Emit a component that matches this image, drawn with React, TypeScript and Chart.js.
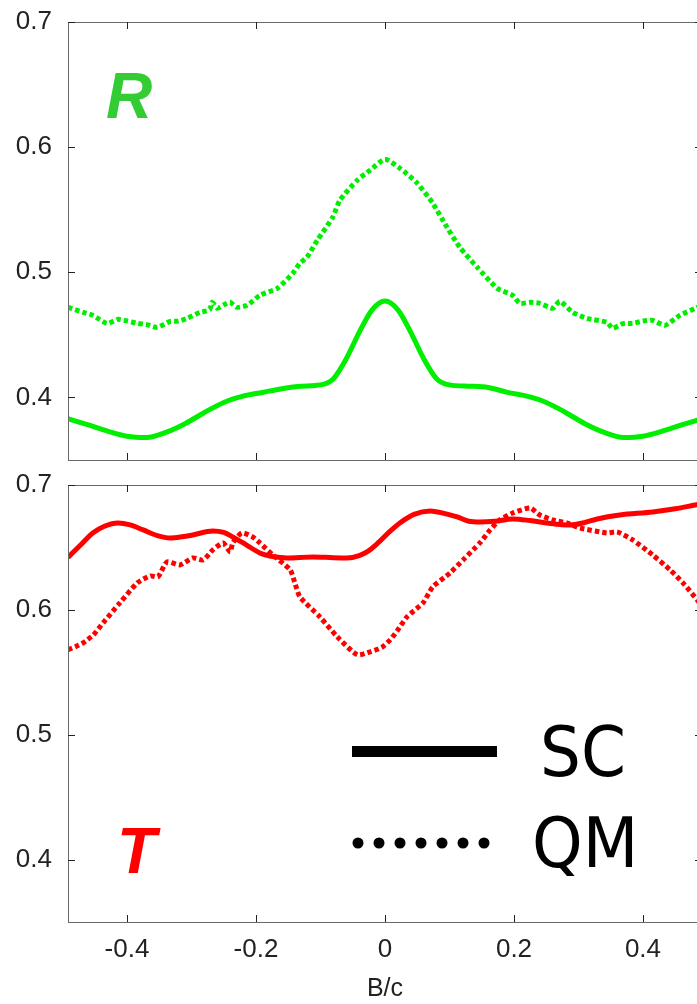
import React, { useEffect, useRef } from 'react';
import { Chart, registerables } from 'chart.js';

Chart.register(...registerables);

// ---------- data ----------
const X_MIN = -0.4915;
const X_MAX = 0.4915;
const Y_MIN = 0.35;
const Y_MAX = 0.7;
const xTickValues = [-0.4, -0.2, 0, 0.2, 0.4];
const yTickValues = [0.4, 0.5, 0.6, 0.7];
const xAxisTitle = 'B/c';
const seriesNames = ['SC', 'QM'];
const panelNames = ['R', 'T'];

// R panel, SC (solid)
const rScB = [-0.4915, -0.46, -0.43, -0.4, -0.37, -0.34, -0.31, -0.28, -0.25, -0.22, -0.19, -0.16, -0.13, -0.1, -0.08, -0.06, -0.04, -0.02, 0,
  0.02, 0.04, 0.06, 0.08, 0.1, 0.13, 0.16, 0.19, 0.22, 0.25, 0.28, 0.31, 0.34, 0.37, 0.4, 0.43, 0.46, 0.4915];
const rScV = [0.383, 0.378, 0.373, 0.369, 0.368, 0.372, 0.379, 0.388, 0.396, 0.401, 0.404, 0.407, 0.409, 0.41, 0.415, 0.431, 0.452, 0.47, 0.477,
  0.47, 0.452, 0.431, 0.415, 0.41, 0.409, 0.408, 0.404, 0.401, 0.396, 0.388, 0.379, 0.372, 0.368, 0.369, 0.373, 0.378, 0.383];

// R panel, QM (dotted)
const rQmB = [-0.4915, -0.468, -0.453, -0.431, -0.414, -0.399, -0.384, -0.368, -0.353, -0.333, -0.32, -0.307, -0.287, -0.272, -0.268, -0.26, -0.25, -0.24, -0.23, -0.214,
  -0.194, -0.167, -0.143, -0.132, -0.121, -0.105, -0.081, -0.07, -0.043, -0.023, 0, 0.023, 0.05, 0.074, 0.096, 0.116, 0.143, 0.174, 0.198, 0.209,
  0.225, 0.24, 0.26, 0.271, 0.291, 0.313, 0.344, 0.353, 0.369, 0.384, 0.4, 0.415, 0.434, 0.457, 0.481, 0.4915];
const rQmV = [0.472, 0.468, 0.4656, 0.4592, 0.4624, 0.461, 0.4592, 0.458, 0.456, 0.4608, 0.461, 0.4632, 0.468, 0.47, 0.476, 0.4712, 0.474, 0.476, 0.472, 0.4736,
  0.4816, 0.4872, 0.4992, 0.5072, 0.512, 0.5256, 0.544, 0.5576, 0.5736, 0.5816, 0.5904, 0.5832, 0.5712, 0.5552, 0.536, 0.52, 0.504, 0.4872, 0.4816, 0.4752,
  0.476, 0.4752, 0.4712, 0.4768, 0.468, 0.4632, 0.46, 0.4552, 0.459, 0.4592, 0.461, 0.4616, 0.4576, 0.4656, 0.4712, 0.4735];

// T panel, SC (solid)
const tScB = [-0.4915, -0.47, -0.453, -0.435, -0.414, -0.395, -0.375, -0.353, -0.333, -0.315, -0.298, -0.267, -0.25, -0.236, -0.215, -0.194, -0.172, -0.152, -0.112, -0.08,
  -0.059, -0.04, -0.028, -0.01, 0.008, 0.023, 0.045, 0.07, 0.09, 0.112, 0.13, 0.147, 0.17, 0.198, 0.225, 0.251, 0.287, 0.31, 0.329, 0.364,
  0.415, 0.45, 0.481, 0.4915];
const tScV = [0.642, 0.653, 0.6616, 0.667, 0.6696, 0.668, 0.664, 0.6595, 0.6576, 0.6585, 0.66, 0.6632, 0.662, 0.6584, 0.652, 0.6456, 0.6425, 0.6416, 0.6424, 0.6418,
  0.6416, 0.6435, 0.6464, 0.654, 0.663, 0.6696, 0.6765, 0.6792, 0.6775, 0.6744, 0.671, 0.6704, 0.671, 0.6728, 0.6715, 0.6696, 0.668, 0.67, 0.6728, 0.676,
  0.6784, 0.681, 0.684, 0.685];

// T panel, QM (dotted)
const tQmB = [-0.4915, -0.48, -0.468, -0.452, -0.437, -0.411, -0.384, -0.364, -0.352, -0.338, -0.318, -0.298, -0.282, -0.267, -0.251, -0.24, -0.236, -0.222, -0.205, -0.194,
  -0.174, -0.147, -0.14, -0.132, -0.101, -0.074, -0.043, -0.023, -0.005, 0.008, 0.02, 0.034, 0.059, 0.074, 0.101, 0.121, 0.147, 0.163, 0.178, 0.198,
  0.225, 0.24, 0.26, 0.282, 0.302, 0.344, 0.36, 0.384, 0.415, 0.442, 0.462, 0.484, 0.4915];
const tQmV = [0.568, 0.5705, 0.5736, 0.58, 0.5896, 0.6056, 0.6216, 0.6272, 0.6264, 0.6384, 0.636, 0.6416, 0.64, 0.648, 0.6536, 0.6464, 0.6536, 0.6616, 0.6584, 0.6536,
  0.644, 0.632, 0.622, 0.6104, 0.5944, 0.5784, 0.564, 0.5664, 0.57, 0.576, 0.584, 0.5944, 0.6056, 0.6184, 0.6296, 0.64, 0.6536, 0.664, 0.672, 0.6776,
  0.6816, 0.676, 0.672, 0.6696, 0.6656, 0.6616, 0.6624, 0.656, 0.644, 0.632, 0.6216, 0.608, 0.603];

// ---------- helpers ----------
const TICK_FONT = '"Liberation Sans", Arial, sans-serif';
const toPoints = (xs: number[], ys: number[]) => xs.map((x, i) => ({ x, y: ys[i] }));
const fmt = (v: number) => (Math.abs(v) < 1e-9 ? '0' : v.toFixed(1));

function decorPlugin(panel: 'R' | 'T') {
  return {
    id: 'decor' + panel,
    afterDraw(chart: any) {
      const { ctx, chartArea: a, scales } = chart;
      ctx.save();
      // frame
      ctx.strokeStyle = '#6a6a6a';
      ctx.lineWidth = 1;
      ctx.strokeRect(Math.round(a.left) + 0.5, Math.round(a.top) + 0.5, Math.round(a.right - a.left), Math.round(a.bottom - a.top));
      // inward ticks
      ctx.strokeStyle = '#222';
      ctx.beginPath();
      xTickValues.forEach((v) => {
        const px = Math.round(scales.x.getPixelForValue(v)) + 0.5;
        ctx.moveTo(px, a.top); ctx.lineTo(px, a.top + 7);
        ctx.moveTo(px, a.bottom); ctx.lineTo(px, a.bottom - 7);
      });
      yTickValues.forEach((v) => {
        const py = Math.round(scales.y.getPixelForValue(v)) + 0.5;
        ctx.moveTo(a.left, py); ctx.lineTo(a.left + 7, py);
        ctx.moveTo(a.right, py); ctx.lineTo(a.right - 7, py);
      });
      ctx.stroke();
      // panel label
      ctx.font = 'italic bold 64px "Liberation Sans", Arial, sans-serif';
      ctx.textBaseline = 'alphabetic';
      ctx.textAlign = 'left';
      if (panel === 'R') {
        ctx.fillStyle = '#33cc33';
        ctx.fillText(panelNames[0], 106, 118);
      } else {
        ctx.fillStyle = '#ff0000';
        ctx.fillText(panelNames[1], 117, 403);
        // legend
        const ds = chart.data.datasets;
        ctx.fillStyle = '#000';
        ctx.fillRect(352, 276, 145, 11);
        for (let i = 0; i < 7; i++) {
          ctx.beginPath();
          ctx.arc(358 + i * 21, 373, 5.5, 0, Math.PI * 2);
          ctx.fill();
        }
        ctx.font = '70px "DejaVu Sans", Verdana, sans-serif';
        ctx.save();
        ctx.translate(540, 306);
        ctx.scale(0.92, 1);
        ctx.fillText(ds[0].label, 0, 0);
        ctx.restore();
        ctx.save();
        ctx.translate(532, 397);
        ctx.scale(0.92, 1);
        ctx.fillText(ds[1].label, 0, 0);
        ctx.restore();
      }
      ctx.restore();
    },
  };
}

function makeConfig(panel: 'R' | 'T'): any {
  const isTop = panel === 'R';
  const color = isTop ? '#00ee00' : '#ff0000';
  const sc = isTop ? toPoints(rScB, rScV) : toPoints(tScB, tScV);
  const qm = isTop ? toPoints(rQmB, rQmV) : toPoints(tQmB, tQmV);
  return {
    type: 'line',
    data: {
      datasets: [
        {
          label: seriesNames[0],
          data: sc,
          borderColor: color,
          borderWidth: 5,
          pointRadius: 0,
          cubicInterpolationMode: 'monotone',
          fill: false,
        },
        {
          label: seriesNames[1],
          data: qm,
          borderColor: color,
          borderWidth: 5,
          borderDash: [4.5, 3],
          borderCapStyle: 'butt',
          pointRadius: 0,
          tension: 0.2,
          fill: false,
        },
      ],
    },
    options: {
      animation: false,
      responsive: false,
      maintainAspectRatio: false,
      devicePixelRatio: 1,
      layout: { padding: { top: isTop ? 22 : 15, right: 18, left: 0, bottom: 0 } },
      plugins: { legend: { display: false }, tooltip: { enabled: false } },
      scales: {
        x: {
          type: 'linear',
          min: X_MIN,
          max: X_MAX,
          afterBuildTicks: (s: any) => { s.ticks = xTickValues.map((v) => ({ value: v })); },
          afterFit: (s: any) => {
            s.height = isTop ? 10 : 82;
            s.paddingLeft = 0; s.paddingRight = 0; s.paddingTop = 0; s.paddingBottom = 0;
          },
          grid: { display: false, drawTicks: false },
          border: { display: false },
          ticks: {
            display: !isTop,
            padding: 12,
            color: '#222',
            font: { family: TICK_FONT, size: 26, lineHeight: 1.2 },
            callback: (v: number) => fmt(v),
            maxRotation: 0,
            autoSkip: false,
          },
          title: {
            display: !isTop,
            text: xAxisTitle,
            color: '#222',
            font: { family: TICK_FONT, size: 25, lineHeight: 1.2 },
            padding: { top: 0, bottom: 0 },
          },
        },
        y: {
          type: 'linear',
          min: Y_MIN,
          max: Y_MAX,
          afterBuildTicks: (s: any) => { s.ticks = yTickValues.map((v) => ({ value: v })); },
          afterFit: (s: any) => {
            s.width = 68;
            s.paddingLeft = 0; s.paddingRight = 0; s.paddingTop = 0; s.paddingBottom = 0;
          },
          grid: { display: false, drawTicks: false },
          border: { display: false },
          ticks: {
            padding: 16,
            color: '#222',
            font: { family: TICK_FONT, size: 26, lineHeight: 1.1 },
            callback: (v: number) => fmt(v),
            autoSkip: false,
          },
        },
      },
    },
    plugins: [decorPlugin(panel)],
  };
}

export default function App() {
  const topRef = useRef<HTMLCanvasElement>(null);
  const botRef = useRef<HTMLCanvasElement>(null);
  useEffect(() => {
    const c1 = new Chart(topRef.current as HTMLCanvasElement, makeConfig('R'));
    const c2 = new Chart(botRef.current as HTMLCanvasElement, makeConfig('T'));
    return () => {
      c1.destroy();
      c2.destroy();
    };
  }, []);
  return (
    <div style={{ position: 'absolute', left: 0, top: 0, width: 697, height: 1004, overflow: 'hidden', background: '#fff' }}>
      <canvas ref={topRef} width={720} height={470} style={{ position: 'absolute', left: 0, top: 0, width: 720, height: 470 }} />
      <canvas ref={botRef} width={720} height={534} style={{ position: 'absolute', left: 0, top: 470, width: 720, height: 534 }} />
    </div>
  );
}
